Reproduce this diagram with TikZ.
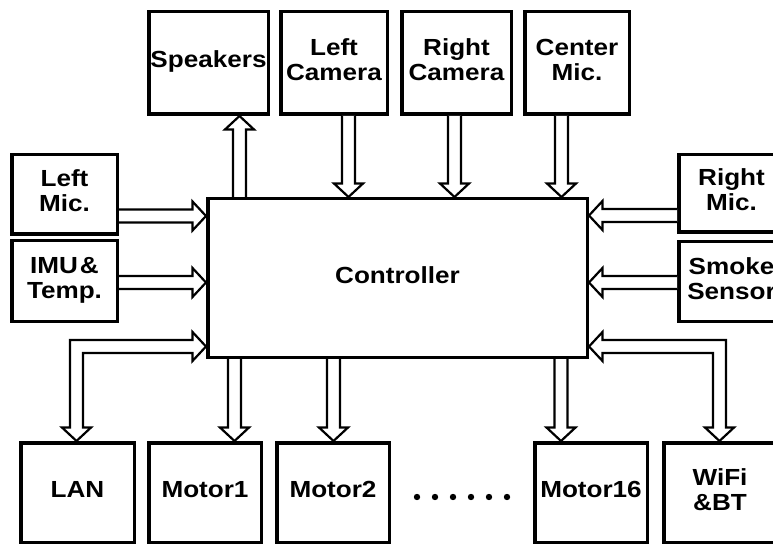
\documentclass[tikz,border=0pt]{standalone}
\usepackage{fontspec}
\newfontfamily\labfont{Liberation Sans}[FakeStretch=1.12]
\usetikzlibrary{calc}
\newcommand\tx[2][0pt]{\raisebox{#1}{\begin{tabular}{@{}c@{}}#2\end{tabular}}}
% block arrow: #1 tail, #2 tip
\newcommand\barr[2]{%
  \coordinate (bt) at (#1);
  \coordinate (bh) at (#2);
  \coordinate (hb) at ($(bh)!13.5pt!(bt)$);
  \filldraw[barrow] ($(bt)!6.5pt!90:(bh)$) -- ($(hb)!6.5pt!90:(bh)$) -- ($(hb)!14.5pt!90:(bh)$) -- (bh)
     -- ($(hb)!14.5pt!-90:(bh)$) -- ($(hb)!6.5pt!-90:(bh)$) -- ($(bt)!6.5pt!-90:(bh)$);
}
\begin{document}
\begin{tikzpicture}[x=1pt,y=-1pt,
  box/.style={draw, line width=3.5pt, inner sep=0pt, fill=none,
    font=\labfont\bfseries\fontsize{23.3}{25}\selectfont},
  topbox/.style={box, minimum height=102.5pt},
  sidebox/.style={box, minimum width=105.5pt},
  botbox/.style={box, minimum height=99.5pt},
  barrow/.style={draw=black, fill=white, line width=2.2pt, line join=miter}]
\useasboundingbox (0,0) rectangle (773,545);
\clip (0,0) rectangle (773,545);

% controller
\node[box, minimum width=379.5pt, minimum height=158.5pt] (ctrl) at (397.5,278) {\tx[2pt]{Controller}};

% top row
\node[topbox, minimum width=119.5pt] (spk) at (208.5,63) {\tx[2pt]{Speakers}};
\node[topbox, minimum width=106.5pt] (lcam) at (334,63) {\tx[2pt]{Left\\Camera}};
\node[topbox, minimum width=109.5pt] (rcam) at (456.5,63) {\tx[2pt]{Right\\Camera}};
\node[topbox, minimum width=104.5pt] (cmic) at (577,63) {\tx[2pt]{Center\\Mic.}};

% left side
\node[sidebox, minimum height=79.5pt] (lmic) at (64.5,194.5) {\tx[-1pt]{Left\\Mic.}};
\node[sidebox, minimum height=80.5pt] (imu) at (64.5,281) {\tx{IMU\kern2pt\&\\Temp.}};

% right side
\node[sidebox, minimum height=77.5pt] (rmic) at (731.5,193.5) {\tx[-3pt]{Right\\Mic.}};
\node[sidebox, minimum height=79.5pt] (smoke) at (731.5,281.5) {\tx{Smoke\\Sensor}};

% bottom row
\node[botbox, minimum width=113.5pt] (lan) at (77.5,492.5) {\tx[-4pt]{LAN}};
\node[botbox, minimum width=112.5pt] (m1) at (205,492.5) {\tx[-5pt]{Motor1}};
\node[botbox, minimum width=112.5pt] (m2) at (333,492.5) {\tx[-4pt]{Motor2}};
\node[botbox, minimum width=112.5pt] (m16) at (591,492.5) {\tx[-2pt]{Motor16}};
\node[botbox, minimum width=112.5pt] (wifi) at (720,492.5) {\tx[-3pt]{WiFi\\\&BT}};

% dots
\foreach \k in {0,...,5} \fill ({417+18*\k},497) circle[radius=3.2pt];

% arrow positions
\coordinate (xa) at (239.5,0);
\coordinate (xb) at (348.5,0);
\coordinate (xc) at (454.5,0);
\coordinate (xd) at (561.5,0);
\coordinate (xe) at (234.5,0);
\coordinate (xf) at (333.5,0);
\coordinate (xg) at (561,0);
\coordinate (ya) at (0,216);
\coordinate (yb) at (0,282.5);
\coordinate (yc) at (0,215.5);

\barr{xa |- ctrl.north}{xa |- spk.south}
\barr{xb |- lcam.south}{xb |- ctrl.north}
\barr{xc |- rcam.south}{xc |- ctrl.north}
\barr{xd |- cmic.south}{xd |- ctrl.north}
\barr{lmic.east |- ya}{ctrl.west |- ya}
\barr{imu.east |- yb}{ctrl.west |- yb}
\barr{rmic.west |- yc}{ctrl.east |- yc}
\barr{smoke.west |- yb}{ctrl.east |- yb}
\barr{xe |- ctrl.south}{xe |- m1.north}
\barr{xf |- ctrl.south}{xf |- m2.north}
\barr{xg |- ctrl.south}{xg |- m16.north}

% LAN elbow (double-headed)
\coordinate (lc) at (76.5,346.5);
\coordinate (l1) at (ctrl.west |- lc);
\coordinate (l2) at (lc |- lan.north);
\filldraw[barrow] (l1) -- ($(l1)+(-13.5,-14.5)$) -- ($(l1)+(-13.5,-6.5)$) -- ($(lc)+(-6.5,-6.5)$)
  -- ($(l2)+(-6.5,-13.5)$) -- ($(l2)+(-14.5,-13.5)$) -- (l2) -- ($(l2)+(14.5,-13.5)$) -- ($(l2)+(6.5,-13.5)$)
  -- ($(lc)+(6.5,6.5)$) -- ($(l1)+(-13.5,6.5)$) -- ($(l1)+(-13.5,14.5)$) -- cycle;

% WiFi elbow (double-headed)
\coordinate (rc) at (719.5,346.5);
\coordinate (r1) at (ctrl.east |- rc);
\coordinate (r2) at (rc |- wifi.north);
\filldraw[barrow] (r1) -- ($(r1)+(13.5,-14.5)$) -- ($(r1)+(13.5,-6.5)$) -- ($(rc)+(6.5,-6.5)$)
  -- ($(r2)+(6.5,-13.5)$) -- ($(r2)+(14.5,-13.5)$) -- (r2) -- ($(r2)+(-14.5,-13.5)$) -- ($(r2)+(-6.5,-13.5)$)
  -- ($(rc)+(-6.5,6.5)$) -- ($(r1)+(13.5,6.5)$) -- ($(r1)+(13.5,14.5)$) -- cycle;
\end{tikzpicture}
\end{document}
